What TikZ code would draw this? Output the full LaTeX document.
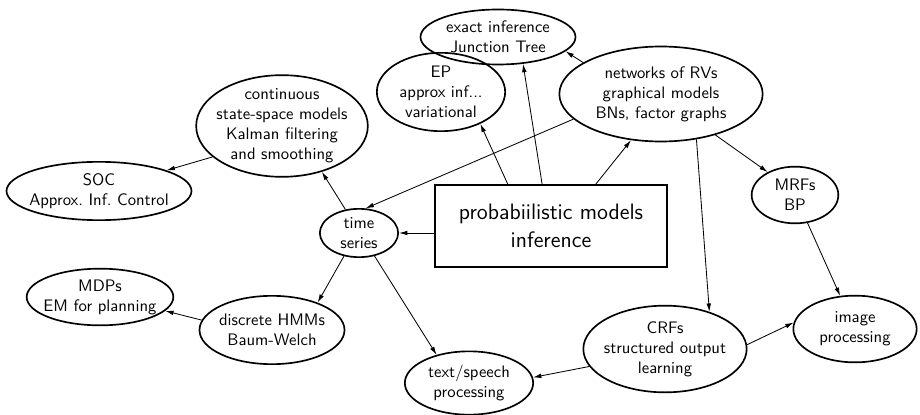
\documentclass[tikz,border=0pt]{standalone}
\usepackage{tikz}
\usetikzlibrary{shapes.geometric,arrows.meta}
\tikzset{
bubble/.style 2 args = {shape=ellipse, draw, line width=1pt,
                        inner xsep=-20pt, inner ysep=-12pt,
                        minimum width=#1, minimum height=#2,
                        align=center, font=\sffamily},
core/.style   = {shape=rectangle, draw, line width=1pt,
                 minimum width=139pt, minimum height=49pt,
                 align=center, font=\sffamily\fontsize{13.4}{16.8}\selectfont},
link/.style   = {line width=0.5pt, -{Latex[length=5pt,width=2.8pt]}}
}

\begin{document}
\begin{tikzpicture}[x=0.6pt, y=-0.6pt]
\useasboundingbox (0,0) rectangle (920,415);

% topics
\node[bubble={93pt}{33pt}]  (exact)  at (498,37)  {exact inference\\Junction Tree};
\node[bubble={77pt}{47pt}]  (ep)     at (441,92)  {EP\\approx inf...\\variational};
\node[bubble={122pt}{57pt}] (net)    at (661,94)  {networks of RVs\\graphical models\\BNs, factor graphs};
\node[bubble={103pt}{61pt}] (cont)   at (282,126) {continuous\\state-space models\\Kalman filtering\\and smoothing};
\node[bubble={111pt}{35pt}] (soc)    at (99,191)  {SOC\\Approx.\ Inf.\ Control};
\node[bubble={47pt}{29pt}]  (ts)     at (359,233) {time\\series};
\node[core]                 (prob)   at (551,226) {probabiilistic models\\inference};
\node[bubble={88pt}{34pt}]  (mdp)    at (100,297) {MDPs\\EM for planning};
\node[bubble={87pt}{41pt}]  (hmm)    at (272,330) {discrete HMMs\\Baum-Welch};
\node[bubble={77pt}{38pt}]  (speech) at (469,383) {text/speech\\processing};
\node[bubble={98pt}{52pt}]  (crf)    at (665,349) {CRFs\\structured output\\learning};
\node[bubble={74pt}{40pt}]  (img)    at (855,329) {image\\processing};
\node[bubble={52pt}{34pt}]  (mrf)    at (795,195) {MRFs\\BP};

% links
\draw[link] (prob.136) -- (ep.-39);
\draw[link] (prob.102) -- (exact.-47);
\draw[link] (prob.43) -- (net.-123);
\draw[link] (prob.west |- ts) -- (ts);
\draw[link] (net.158) -- (exact.-12);
\draw[link] (net.196) -- (ts.75);
\draw[link] (net.-52) -- (crf.40);
\draw[link] (net.-37) -- (mrf.140);
\draw[link] (ts.120) -- (cont.-49);
\draw[link] (cont.204) -- (soc.17);
\draw[link] (ts.237) -- (hmm.31);
\draw[link] (ts.-56) -- (speech.139);
\draw[link] (hmm.172) -- (mdp.-12);
\draw[link] (mrf) -- (img);
\draw[link] (crf.3) -- (img.174);
\draw[link] (crf.193) -- (speech.5);
\end{tikzpicture}
\end{document}
